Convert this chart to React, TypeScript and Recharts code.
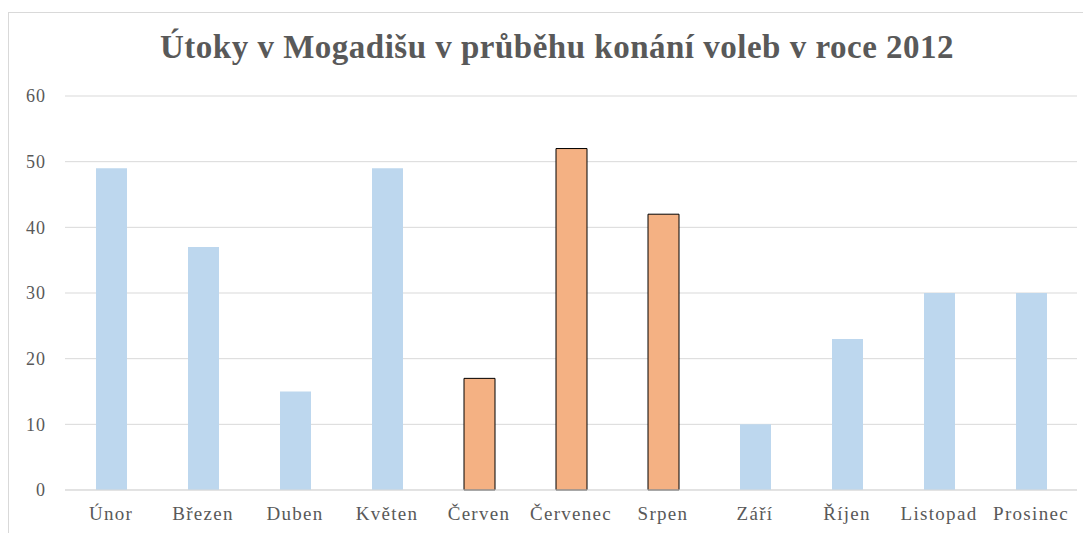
import React from 'react';
import { BarChart, Bar, XAxis, YAxis, CartesianGrid, Cell } from 'recharts';

const months = ['Únor', 'Březen', 'Duben', 'Květen', 'Červen', 'Červenec', 'Srpen', 'Září', 'Říjen', 'Listopad', 'Prosinec'];
const attacks = [49, 37, 15, 49, 17, 52, 42, 10, 23, 30, 30];
const electionMonths = ['Červen', 'Červenec', 'Srpen'];
const yTicks = [0, 10, 20, 30, 40, 50, 60];

const data = months.map((m, i) => ({ month: m, value: attacks[i] }));

const FONT = '"Liberation Serif", "Times New Roman", serif';

export default function App() {
  return (
    <div style={{ paddingTop: 4 }}>
      <div
        style={{
          position: 'relative',
          width: 1090,
          height: 530,
          border: '1px solid #d9d9d9',
          boxSizing: 'border-box',
          background: '#fff',
        }}
      >
        <div
          style={{
            position: 'absolute',
            top: 14,
            left: 0,
            width: 1096,
            textAlign: 'center',
            fontFamily: FONT,
            fontWeight: 'bold',
            fontSize: 33,
            lineHeight: '40px',
            color: '#595959',
            letterSpacing: 0.5,
          }}
        >
          Útoky v Mogadišu v průběhu konání voleb v roce 2012
        </div>
        <BarChart
          width={1075}
          height={520}
          data={data}
          margin={{ top: 83, right: 7, bottom: 13, left: 0 }}
          barCategoryGap={0}
        >
          <CartesianGrid vertical={false} stroke="#d9d9d9" />
          <XAxis
            dataKey="month"
            axisLine={{ stroke: '#d9d9d9' }}
            tickLine={false}
            height={30}
            tickMargin={11}
            tick={{ fill: '#595959', fontSize: 19, fontFamily: FONT, letterSpacing: 1.3 }}
            interval={0}
          />
          <YAxis
            width={56}
            domain={[0, 60]}
            ticks={yTicks}
            axisLine={false}
            tickLine={false}
            tickMargin={13}
            tick={{ fill: '#595959', fontSize: 18, fontFamily: FONT, letterSpacing: 1 }}
          />
          <Bar dataKey="value" barSize={31} isAnimationActive={false}>
            {data.map((d) =>
              electionMonths.includes(d.month) ? (
                <Cell key={d.month} fill="#f4b183" stroke="#000" strokeWidth={1} />
              ) : (
                <Cell key={d.month} fill="#bdd7ee" />
              )
            )}
          </Bar>
        </BarChart>
      </div>
    </div>
  );
}
